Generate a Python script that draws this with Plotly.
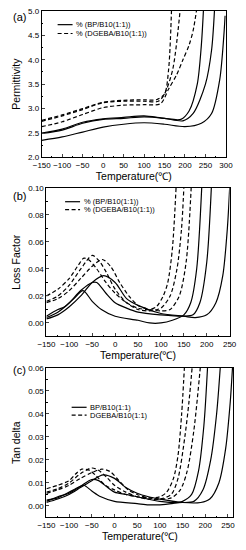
import plotly.graph_objects as go

W, H = 246, 550

# ---------------- (a) Permittivity ----------------
perm_bp1_T = [-150, -100, -50, 0, 50, 100, 150, 190, 210, 230, 240, 245]
perm_bp1   = [2.50, 2.58, 2.72, 2.79, 2.82, 2.85, 2.80, 2.78, 2.95, 3.5, 4.3, 5.0]
perm_bp2_T = [-150, -100, -50, 0, 50, 100, 150, 195, 220, 250, 265, 272]
perm_bp2   = [2.49, 2.56, 2.70, 2.78, 2.80, 2.83, 2.80, 2.75, 2.90, 3.5, 4.2, 5.0]
perm_bp3_T = [-150, -100, -50, 0, 50, 100, 150, 200, 240, 265, 285, 295, 298]
perm_bp3   = [2.35, 2.42, 2.52, 2.62, 2.68, 2.71, 2.68, 2.63, 2.70, 2.90, 3.6, 4.5, 4.9]

perm_dg1_T = [-150, -100, -50, 0, 50, 100, 130, 150, 160, 167]
perm_dg1   = [2.76, 2.87, 3.00, 3.13, 3.17, 3.18, 3.18, 3.30, 3.80, 5.0]
perm_dg2_T = [-150, -100, -50, 0, 50, 100, 135, 150, 170, 188]
perm_dg2   = [2.74, 2.85, 2.98, 3.12, 3.15, 3.15, 3.15, 3.30, 3.80, 5.0]
perm_dg3_T = [-150, -100, -50, 0, 50, 100, 140, 160, 180, 195, 210, 220, 228]
perm_dg3   = [2.63, 2.73, 2.88, 3.02, 3.07, 3.08, 3.10, 3.40, 3.70, 4.00, 4.30, 4.60, 5.0]

# ---------------- (b) Loss factor ----------------
loss_bp1_T = [-150, -125, -110, -90, -70, -50, -30, 0, 50, 75, 100, 125, 150, 165, 178, 189]
loss_bp1   = [0.005, 0.010, 0.012, 0.018, 0.024, 0.016, 0.010, 0.005, 0.002, 0.000, 0.000, 0.002, 0.006, 0.015, 0.040, 0.100]
loss_bp2_T = [-150, -125, -100, -75, -50, -40, -20, 0, 25, 50, 100, 150, 170, 185, 200, 210]
loss_bp2   = [0.004, 0.008, 0.015, 0.024, 0.030, 0.030, 0.022, 0.015, 0.011, 0.008, 0.006, 0.005, 0.006, 0.015, 0.045, 0.100]
loss_bp3_T = [-150, -125, -100, -75, -50, -25, 0, 25, 50, 100, 150, 175, 200, 220, 235, 245, 250]
loss_bp3   = [0.003, 0.006, 0.012, 0.020, 0.030, 0.035, 0.030, 0.018, 0.013, 0.007, 0.005, 0.004, 0.006, 0.015, 0.035, 0.070, 0.100]

loss_dg1_T = [-150, -125, -100, -80, -68, -55, -40, -20, 0, 25, 50, 75, 90, 105, 115, 125, 133]
loss_dg1   = [0.020, 0.025, 0.033, 0.043, 0.048, 0.046, 0.040, 0.030, 0.022, 0.015, 0.011, 0.010, 0.012, 0.020, 0.030, 0.055, 0.100]
loss_dg2_T = [-150, -125, -100, -75, -50, -35, -20, 0, 25, 50, 75, 100, 120, 135, 145, 150]
loss_dg2   = [0.016, 0.020, 0.028, 0.040, 0.050, 0.046, 0.038, 0.025, 0.015, 0.010, 0.009, 0.011, 0.020, 0.040, 0.070, 0.100]
loss_dg3_T = [-150, -125, -100, -75, -50, -28, -10, 10, 30, 50, 75, 100, 120, 140, 155, 166]
loss_dg3   = [0.015, 0.018, 0.024, 0.033, 0.042, 0.047, 0.042, 0.030, 0.020, 0.013, 0.010, 0.009, 0.010, 0.020, 0.045, 0.100]

# ---------------- (c) Tan delta ----------------
tan_bp1_T = [-150, -125, -110, -90, -68, -50, -30, 0, 50, 75, 100, 125, 150, 170, 185, 197, 205]
tan_bp1   = [0.0025, 0.0035, 0.005, 0.007, 0.009, 0.0065, 0.004, 0.002, 0.001, 0.0005, 0.0005, 0.001, 0.002, 0.005, 0.015, 0.035, 0.060]
tan_bp2_T = [-150, -125, -100, -75, -50, -35, -15, 0, 25, 50, 100, 150, 175, 195, 212, 225, 233]
tan_bp2   = [0.002, 0.004, 0.0055, 0.0085, 0.0115, 0.011, 0.008, 0.006, 0.005, 0.004, 0.002, 0.0015, 0.002, 0.007, 0.020, 0.040, 0.060]
tan_bp3_T = [-150, -125, -100, -75, -50, -25, 0, 25, 50, 75, 100, 150, 190, 210, 230, 245, 255, 260]
tan_bp3   = [0.0015, 0.003, 0.005, 0.008, 0.011, 0.0135, 0.012, 0.008, 0.0055, 0.004, 0.003, 0.0015, 0.0015, 0.003, 0.010, 0.025, 0.045, 0.060]

tan_dg1_T = [-150, -125, -100, -85, -72, -55, -40, -20, 0, 25, 50, 75, 100, 115, 130, 140, 148, 154]
tan_dg1   = [0.0075, 0.009, 0.011, 0.014, 0.016, 0.0155, 0.013, 0.009, 0.007, 0.005, 0.004, 0.0035, 0.004, 0.006, 0.012, 0.022, 0.040, 0.060]
tan_dg2_T = [-150, -125, -100, -75, -50, -35, -15, 0, 25, 50, 75, 100, 125, 140, 155, 164, 171]
tan_dg2   = [0.006, 0.0075, 0.010, 0.014, 0.0165, 0.0155, 0.012, 0.009, 0.006, 0.004, 0.003, 0.003, 0.005, 0.012, 0.030, 0.045, 0.060]
tan_dg3_T = [-150, -125, -100, -75, -50, -28, -10, 10, 30, 50, 75, 100, 125, 145, 160, 175, 189]
tan_dg3   = [0.0055, 0.007, 0.009, 0.012, 0.0145, 0.016, 0.015, 0.011, 0.007, 0.005, 0.0035, 0.003, 0.0035, 0.007, 0.015, 0.033, 0.060]

legend_ab = ["% (BP/B10(1:1))", "% (DGEBA/B10(1:1))"]
legend_c = ["BP/B10(1:1)", "DGEBA/B10(1:1)"]
panel_labels = ["(a)", "(b)", "(c)"]
y_titles = ["Permittivity", "Loss Factor", "Tan delta"]
x_title = "Temperature(℃)"

FONT = "Liberation Sans, Arial, sans-serif"

fig = go.Figure()

def add(xs, ys, dashed, ax):
    fig.add_trace(go.Scatter(
        x=xs, y=ys, mode="lines", xaxis="x" + ax, yaxis="y" + ax,
        line=dict(color="black", width=1.2, dash="4px,2.5px" if dashed else "solid",
                  shape="spline", smoothing=0.8),
        showlegend=False, hoverinfo="skip"))

for t, v in [(perm_bp1_T, perm_bp1), (perm_bp2_T, perm_bp2), (perm_bp3_T, perm_bp3)]:
    add(t, v, False, "")
for t, v in [(perm_dg1_T, perm_dg1), (perm_dg2_T, perm_dg2), (perm_dg3_T, perm_dg3)]:
    add(t, v, True, "")
for t, v in [(loss_bp1_T, loss_bp1), (loss_bp2_T, loss_bp2), (loss_bp3_T, loss_bp3)]:
    add(t, v, False, "2")
for t, v in [(loss_dg1_T, loss_dg1), (loss_dg2_T, loss_dg2), (loss_dg3_T, loss_dg3)]:
    add(t, v, True, "2")
for t, v in [(tan_bp1_T, tan_bp1), (tan_bp2_T, tan_bp2), (tan_bp3_T, tan_bp3)]:
    add(t, v, False, "3")
for t, v in [(tan_dg1_T, tan_dg1), (tan_dg2_T, tan_dg2), (tan_dg3_T, tan_dg3)]:
    add(t, v, True, "3")

def px(x):
    return x / W

def py(y):
    return 1 - y / H

def xax(dom, rng, anchor):
    return dict(domain=[px(dom[0]), px(dom[1])], range=rng, anchor=anchor,
                dtick=50, tick0=0, ticks="inside", ticklen=3, tickwidth=1, tickangle=0,
                minor=dict(ticks="inside", ticklen=1.5, dtick=25, tick0=0, tickcolor="black"),
                showline=True, linecolor="black", linewidth=1, mirror=True,
                showgrid=False, zeroline=False,
                tickfont=dict(size=8, family=FONT, color="black"),
                title=dict(text=x_title, font=dict(size=10.5, family=FONT, color="black"), standoff=2))

def yax(dom, rng, dtick, minor, fmt, anchor, title):
    return dict(domain=[py(dom[1]), py(dom[0])], range=rng, anchor=anchor,
                dtick=dtick, tick0=0, ticks="inside", ticklen=3, tickwidth=1, tickformat=fmt,
                minor=dict(ticks="inside", ticklen=1.5, dtick=minor, tick0=0, tickcolor="black"),
                showline=True, linecolor="black", linewidth=1, mirror=True,
                showgrid=False, zeroline=False,
                tickfont=dict(size=8, family=FONT, color="black"),
                title=dict(text=title, font=dict(size=10.5, family=FONT, color="black"), standoff=5))

fig.update_layout(
    width=W, height=H, margin=dict(l=0, r=0, t=0, b=0),
    paper_bgcolor="white", plot_bgcolor="white", showlegend=False, hovermode=False,
    xaxis=xax((35, 232), [-150, 300], "y"),
    yaxis=yax((7, 156), [2.0, 5.0], 0.5, 0.25, ".1f", "x", y_titles[0]),
    xaxis2=xax((40, 236), [-150, 250], "y2"),
    yaxis2=yax((187, 338), [-0.01, 0.10], 0.02, 0.01, ".2f", "x2", y_titles[1]),
    xaxis3=xax((40, 240), [-150, 262], "y3"),
    yaxis3=yax((370, 522), [-0.005, 0.06], 0.01, 0.005, ".2f", "x3", y_titles[2]),
)

# panel labels
for lab, yy in zip(panel_labels, [13, 195, 372]):
    fig.add_annotation(text=lab, x=px(2), y=py(yy), xref="paper", yref="paper",
                       xanchor="left", yanchor="middle", showarrow=False,
                       font=dict(size=11, family=FONT, color="black"))

# legends (line samples + text)
leg_specs = [
    (legend_ab, 52, 68, 70, [21, 30]),
    (legend_ab, 60, 76, 78, [201, 209]),
    (legend_c, 67, 83, 85, [410, 418]),
]
for texts, x0, x1, xt, ys in leg_specs:
    for i, (txt, yy) in enumerate(zip(texts, ys)):
        fig.add_shape(type="line", xref="paper", yref="paper",
                      x0=px(x0), x1=px(x1), y0=py(yy), y1=py(yy),
                      line=dict(color="black", width=1.2, dash="solid" if i == 0 else "4px,2.5px"))
        fig.add_annotation(text=txt, x=px(xt), y=py(yy), xref="paper", yref="paper",
                           xanchor="left", yanchor="middle", showarrow=False,
                           font=dict(size=7.5, family=FONT, color="black"))

fig.write_html("out.html", config={"displayModeBar": False, "staticPlot": True},
               post_script="document.body.style.margin='0';document.body.style.overflow='hidden';")
